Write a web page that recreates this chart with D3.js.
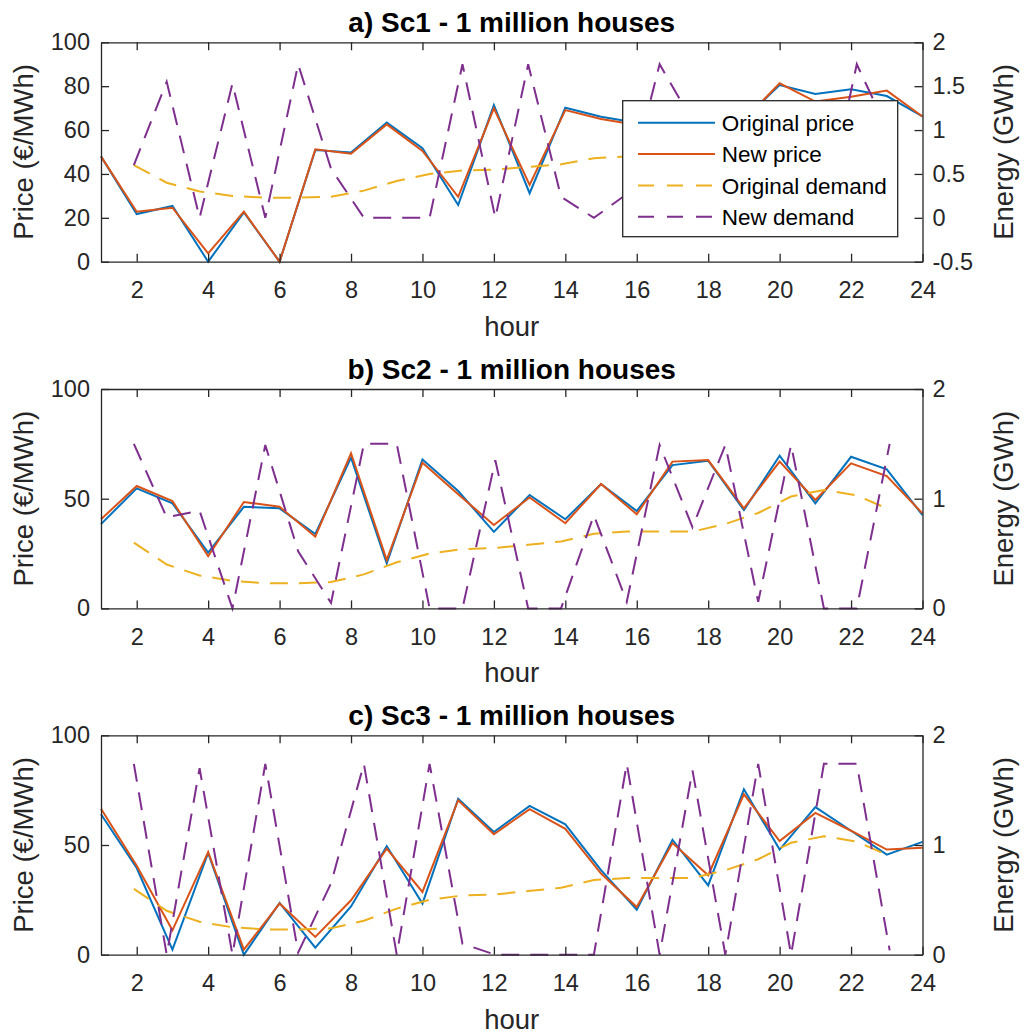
<!DOCTYPE html>
<html><head><meta charset="utf-8">
<script src="https://cdn.jsdelivr.net/npm/d3@7"></script>
<style>
body{margin:0;background:#fff}
svg{display:block}
text{font-family:"Liberation Sans",Arial,Helvetica,sans-serif;fill:#262626}
</style>
</head><body>
<svg id="chart" width="1024" height="1035"></svg>
<script>
// ---------- data ----------
const hours = d3.range(1, 25);          // price x values (hour 1..24)
const demandSlots = d3.range(1, 25);    // demand x values (plotted on the second axes, xlim 0..25)
const hourTicks = [2,4,6,8,10,12,14,16,18,20,22,24];
const titles = ["a) Sc1 - 1 million houses", "b) Sc2 - 1 million houses", "c) Sc3 - 1 million houses"];
const seriesNames = ["Original price", "New price", "Original demand", "New demand"];
const priceTicksA = [0,20,40,60,80,100];
const priceTicksBC = [0,50,100];
const energyTicksA = [-0.5,0,0.5,1,1.5,2];
const energyTicksBC = [0,1,2];
const energyDomainA = [-0.5, 2];
const energyDomainBC = [0, 2];

const originalDemand = [0.60,0.40,0.30,0.25,0.23,0.23,0.24,0.31,0.42,0.50,0.54,0.55,0.58,0.61,0.68,0.70,0.70,0.70,0.77,0.87,1.02,1.08,1.03,0.90];

const originalPriceA = [48,21.7,25.4,0,22.5,0,50.9,49.8,63.4,51.7,25.8,71.4,31.2,70.2,66.1,63.3,61,62,65,80.5,76.4,78.6,75.5,66.2];
const newPriceA      = [48,22.8,24.6,3.8,22.8,0,51.2,49.2,62.6,50.5,29.6,69.9,35.0,69.1,65.0,62.3,60,61,64.5,81.3,73,75.2,78,66.2];
const newDemandA     = [0.60,1.55,0,1.53,0,1.75,0.56,0,0,0,1.75,0,1.75,0.24,0,0.27,1.75,1.10,0.30,-0.2,0.6,0,1.75,0.95];

const originalPriceB = [38.4,54.7,47.9,25.4,46.3,45.6,33.9,68.7,20.5,67.9,53.5,34.9,51.7,40.6,56.7,44.4,65.3,67.3,44.8,69.6,47.9,69.1,63.4,42.5];
const newPriceB      = [40.6,55.8,48.9,23.8,48.5,46.3,32.7,70.7,22.0,66.4,52,38.0,50.6,38.8,56.7,42.9,66.9,67.6,45.6,66.9,49.4,66.1,60.3,43.3];
const newDemandB     = [1.50,0.83,0.89,0,1.49,0.52,0.05,1.50,1.50,0,0,1.35,0,0,0.85,0.06,1.49,0.74,1.49,0.06,1.49,0,0,1.50];

const originalPriceC = [64.0,39.5,2.3,46.4,0,23.6,3.2,22.0,49.5,23.3,71.1,55.9,67.8,59.4,38.5,20.5,52.4,31.6,75.4,47.9,67.3,56.5,45.6,51.4];
const newPriceC      = [66.5,40.5,11.1,46.8,2.3,23.3,8.1,24.8,48.3,28.6,70.4,54.9,66.3,57.4,37,21.7,50.9,36.2,73.1,51.8,64.6,56.5,47.9,48.8];
const newDemandC     = [1.74,0,1.70,0,1.74,0.02,0.65,1.74,0,1.74,0.1,0,0,0,0,1.74,0,1.68,0,1.74,0,1.74,1.74,0.04];

// ---------- layout / style ----------
const colors = ["#0072BD", "#D95319", "#EDB120", "#7E2F8E"];
const axisColor = "#262626";
const plotLeft = 101, plotRight = 922.5, plotH = 219.4;
const panelTops = [42.3, 389, 735.3];
const tickFont = 23.5, labelFont = 27.5, titleFont = 28, legendFont = 22.5;

const panels = [
  {title: titles[0], op: originalPriceA, np: newPriceA, nd: newDemandA, pt: priceTicksA, ed: energyDomainA, et: energyTicksA, legend: true},
  {title: titles[1], op: originalPriceB, np: newPriceB, nd: newDemandB, pt: priceTicksBC, ed: energyDomainBC, et: energyTicksBC, legend: false},
  {title: titles[2], op: originalPriceC, np: newPriceC, nd: newDemandC, pt: priceTicksBC, ed: energyDomainBC, et: energyTicksBC, legend: false}
];

const svg = d3.select("#chart");
const x = d3.scaleLinear().domain([1, 24]).range([plotLeft, plotRight]);
const xd = d3.scaleLinear().domain([0, 25]).range([plotLeft, plotRight]);

panels.forEach((p, i) => {
  const top = panelTops[i], bottom = top + plotH;
  const yL = d3.scaleLinear().domain([0, 100]).range([bottom, top]);
  const yR = d3.scaleLinear().domain(p.ed).range([bottom, top]);
  const g = svg.append("g");

  // lines
  const priceLine = d3.line().x((d, k) => x(hours[k])).y(d => yL(d));
  const demandLine = d3.line().x((d, k) => xd(demandSlots[k])).y(d => yR(d));
  g.append("path").attr("d", priceLine(p.op)).attr("fill", "none").attr("stroke", colors[0]).attr("stroke-width", 2);
  g.append("path").attr("d", priceLine(p.np)).attr("fill", "none").attr("stroke", colors[1]).attr("stroke-width", 2);
  g.append("path").attr("d", demandLine(originalDemand)).attr("fill", "none").attr("stroke", colors[2]).attr("stroke-width", 2).attr("stroke-dasharray", "18,11");
  g.append("path").attr("d", demandLine(p.nd)).attr("fill", "none").attr("stroke", colors[3]).attr("stroke-width", 2).attr("stroke-dasharray", "18,11");

  // axes
  const styleAxis = sel => {
    sel.selectAll("path.domain").attr("stroke", axisColor).attr("stroke-width", 1.3);
    sel.selectAll(".tick line").attr("stroke", axisColor).attr("stroke-width", 1.3);
    sel.selectAll(".tick text").attr("font-size", tickFont).style("fill", axisColor)
      .attr("font-family", "Liberation Sans, Arial, sans-serif");
  };
  g.append("g").attr("transform", `translate(0,${bottom})`)
    .call(d3.axisBottom(x).tickValues(hourTicks).tickSizeInner(-8).tickSizeOuter(0).tickPadding(20).tickFormat(d => String(d)))
    .call(styleAxis);
  g.append("g").attr("transform", `translate(0,${top})`)
    .call(d3.axisTop(x).tickValues(hourTicks).tickSizeInner(-8).tickSizeOuter(0).tickFormat(""))
    .call(styleAxis);
  g.append("g").attr("transform", `translate(${plotLeft},0)`)
    .call(d3.axisLeft(yL).tickValues(p.pt).tickSizeInner(-8).tickSizeOuter(0).tickPadding(11).tickFormat(d => String(d)))
    .call(styleAxis);
  g.append("g").attr("transform", `translate(${plotRight},0)`)
    .call(d3.axisRight(yR).tickValues(p.et).tickSizeInner(-8).tickSizeOuter(0).tickPadding(10).tickFormat(d => String(d)))
    .call(styleAxis);

  // labels
  const midY = (top + bottom) / 2, midX = (plotLeft + plotRight) / 2;
  g.append("text").attr("x", midX).attr("y", top - 10).attr("text-anchor", "middle")
    .attr("font-size", titleFont).attr("font-weight", "bold").style("fill", "#000").text(p.title);
  g.append("text").attr("x", midX).attr("y", bottom + 74).attr("text-anchor", "middle")
    .attr("font-size", labelFont).text("hour");
  g.append("text").attr("transform", `translate(33,${midY}) rotate(-90)`).attr("text-anchor", "middle")
    .attr("font-size", labelFont).text("Price (€/MWh)");
  g.append("text").attr("transform", `translate(1013,${midY}) rotate(-90)`).attr("text-anchor", "middle")
    .attr("font-size", labelFont).text("Energy (GWh)");

  // legend
  if (p.legend) {
    const lx = 622.7, ly = 100.7, lw = 275, lh = 136;
    const lg = g.append("g");
    lg.append("rect").attr("x", lx).attr("y", ly).attr("width", lw).attr("height", lh)
      .attr("fill", "#fff").attr("stroke", axisColor).attr("stroke-width", 1.3);
    const rowY = [122.7, 154, 185.5, 216.7];
    seriesNames.forEach((name, k) => {
      lg.append("line").attr("x1", 638).attr("x2", 715).attr("y1", rowY[k]).attr("y2", rowY[k])
        .attr("stroke", colors[k]).attr("stroke-width", 2)
        .attr("stroke-dasharray", k >= 2 ? "16,13" : null);
      lg.append("text").attr("x", 721.7).attr("y", rowY[k]).attr("dy", "0.36em")
        .attr("font-size", legendFont).style("fill", "#000").text(name);
    });
  }
});
</script>
</body></html>
